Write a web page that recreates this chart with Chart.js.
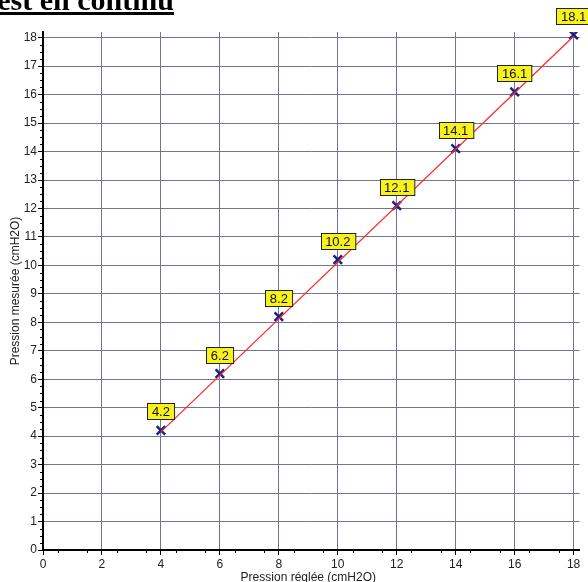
<!DOCTYPE html>
<html>
<head>
<meta charset="utf-8">
<script src="https://cdn.jsdelivr.net/npm/chart.js@4/dist/chart.umd.min.js"></script>
<style>
  body { margin: 0; background: #fff; }
  #wrap { width: 588px; height: 582px; }
</style>
</head>
<body>
<div id="wrap"><canvas id="pressureChart" width="588" height="582"></canvas></div>
<script>
// Pression réglée vs mesurée (cmH2O)
const setPressure = [4, 6, 8, 10, 12, 14, 16, 18];
const measuredPressure = [4.2, 6.2, 8.2, 10.2, 12.1, 14.1, 16.1, 18.1];
// red trend line ends
const fitX = [4, 18];
const fitY = [4.15, 18.05];
const xTicks = [0, 2, 4, 6, 8, 10, 12, 14, 16, 18];
const yTicks = [0, 1, 2, 3, 4, 5, 6, 7, 8, 9, 10, 11, 12, 13, 14, 15, 16, 17, 18];

const FONT = '"Liberation Sans", Arial, sans-serif';

// minor ticks, value labels and titles
const decorPlugin = {
  id: 'decor',
  afterDatasetsDraw(chart) {
    const c = chart.ctx;
    const xs = chart.scales.x;
    const ys = chart.scales.y;
    const area = chart.chartArea;

    c.save();
    c.strokeStyle = '#000';
    c.lineWidth = 1;
    // minor ticks on x (every 0.5)
    for (let v = 0.5; v < 18.2; v += 1) {
      const px = Math.round(xs.getPixelForValue(v)) + 0.5;
      c.beginPath();
      c.moveTo(px, area.bottom);
      c.lineTo(px, area.bottom + 3);
      c.stroke();
    }
    // minor ticks on y (every 0.25)
    for (let v = 0.25; v < 18.2; v += 0.25) {
      if (Math.abs(v - Math.round(v)) < 0.01) continue;
      const py = Math.round(ys.getPixelForValue(v)) + 0.5;
      c.beginPath();
      c.moveTo(area.left, py);
      c.lineTo(area.left - 3, py);
      c.stroke();
    }

    // yellow value boxes
    c.font = '500 13px ' + FONT;
    c.textAlign = 'center';
    c.textBaseline = 'middle';
    const meta = chart.getDatasetMeta(1);
    meta.data.forEach((pt, i) => {
      const txt = measuredPressure[i].toFixed(1);
      const w = c.measureText(txt).width + 9;
      const h = 16;
      const bx = Math.round(pt.x - w / 2) + 0.5;
      const by = Math.round(pt.y - 11 - h) + 0.5;
      c.fillStyle = '#f7f21c';
      c.fillRect(bx, by, w, h);
      c.strokeStyle = '#222';
      c.lineWidth = 1;
      c.strokeRect(bx, by, w, h);
      c.fillStyle = '#111';
      c.fillText(txt, pt.x, by + h / 2 + 0.5);
    });

    // axis titles
    c.fillStyle = '#222';
    c.font = '12px ' + FONT;
    c.fillText('Pression réglée (cmH2O)', (area.left + xs.getPixelForValue(18)) / 2, 578);
    c.translate(16, (area.top + area.bottom) / 2);
    c.rotate(-Math.PI / 2);
    c.fillText('Pression mesurée (cmH2O)', 0, 0);
    c.restore();

    // page heading, cut off at the top
    c.save();
    c.font = 'bold 30px "Liberation Serif", "Times New Roman", serif';
    c.textAlign = 'left';
    c.textBaseline = 'alphabetic';
    c.fillStyle = '#000';
    const tW = c.measureText('T').width;
    const full = 'Test en continu';
    c.fillText(full, -tW, 10);
    const fullW = c.measureText(full).width;
    c.fillRect(0, 12, fullW - tW, 3);
    c.restore();
  }
};

new Chart(document.getElementById('pressureChart'), {
  type: 'scatter',
  data: {
    datasets: [{
      type: 'line',
      data: fitX.map((x, i) => ({ x: x, y: fitY[i] })),
      borderColor: '#ff2a2a',
      borderWidth: 1.3,
      pointRadius: 0,
      fill: false,
      tension: 0
    }, {
      data: setPressure.map((x, i) => ({ x: x, y: measuredPressure[i] })),
      pointStyle: 'crossRot',
      pointRadius: 6,
      borderColor: '#1a2188',
      backgroundColor: '#1a2188',
      borderWidth: 2.5
    }]
  },
  options: {
    responsive: false,
    animation: false,
    layout: { padding: { top: 32, right: 8, left: 0, bottom: 0 } },
    plugins: {
      legend: { display: false },
      tooltip: { enabled: false }
    },
    scales: {
      x: {
        type: 'linear',
        min: 0,
        max: 18.2,
        afterBuildTicks: scale => { scale.ticks = xTicks.map(v => ({ value: v })); },
        afterFit: scale => { scale.height = 32; },
        grid: { color: '#74748e', lineWidth: 1, tickColor: '#000', tickLength: 5 },
        border: { color: '#000', width: 2 },
        ticks: { color: '#222', font: { family: FONT, size: 12 }, padding: 2, maxRotation: 0 }
      },
      y: {
        type: 'linear',
        min: 0,
        max: 18.2,
        afterBuildTicks: scale => { scale.ticks = yTicks.map(v => ({ value: v })); },
        afterFit: scale => { scale.width = 43; },
        grid: { color: '#74748e', lineWidth: 1, tickColor: '#000', tickLength: 5 },
        border: { color: '#000', width: 2 },
        ticks: { color: '#222', font: { family: FONT, size: 12 }, padding: 1 }
      }
    }
  },
  plugins: [decorPlugin]
});
</script>
</body>
</html>
